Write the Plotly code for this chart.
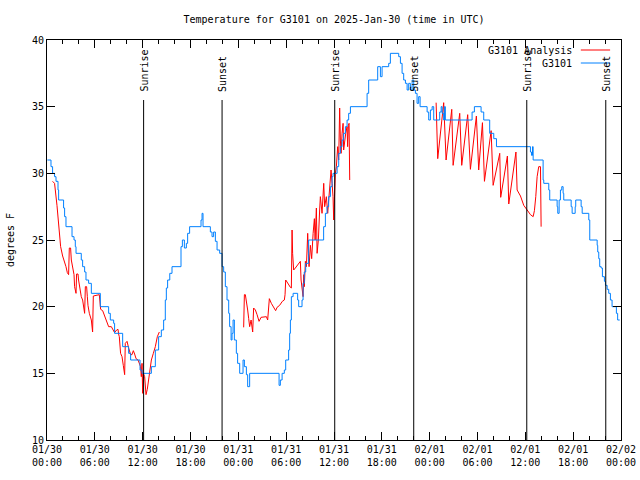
import pandas as pd
import plotly.graph_objects as go

# ---------------- data ----------------
START = pd.Timestamp("2025-01-30 00:00")
END_HOURS = 72

# station observations (hours since 2025-01-30 00:00 UTC, deg F)
obs_hours = [0.05, 0.5, 0.7, 0.95, 1.13, 1.38, 1.46, 2.08, 2.21, 2.38, 3.14, 3.39, 3.55, 3.64,
             4.30, 4.47, 4.72, 4.89, 5.22, 5.56, 6.69, 7.73, 7.94, 8.36, 8.48, 9.49, 10.24, 10.49,
             11.67, 11.92, 13.09, 13.59, 14.0, 14.34, 14.63, 14.84, 14.97, 15.13, 15.4, 15.68,
             16.81, 16.98, 17.23, 17.48, 17.64, 17.89, 19.32, 19.45, 19.57, 20.49, 20.7, 20.9,
             21.12, 21.33, 21.66, 21.96, 22.16, 22.37, 22.58, 22.79, 22.91, 23.09, 23.21, 23.34,
             23.5, 23.75, 23.91, 24.17, 24.59, 24.76, 25.01, 25.17, 25.42, 29.11, 29.27, 29.49,
             29.77, 29.94, 30.31, 30.44, 30.53, 30.65, 30.87, 31.44, 31.57, 31.99, 32.12, 32.27,
             32.45, 32.82, 34.7, 34.92, 35.13, 35.33, 35.55, 35.76, 35.88, 36.39, 36.59, 36.8,
             37.01, 37.21, 37.43, 37.64, 37.84, 38.06, 40.15, 40.35, 41.48, 41.82, 42.03, 42.86,
             43.07, 44.12, 44.33, 44.54, 44.74, 44.96, 45.17, 45.37, 45.58, 45.8, 46.0, 46.21,
             46.42, 46.62, 46.8, 47.68, 47.88, 48.09, 48.31, 48.51, 49.26, 49.44, 49.56, 49.76,
             49.85, 49.97, 53.32, 53.61, 54.45, 54.78, 55.53, 56.04, 56.38, 60.64, 60.77, 60.9,
             60.98, 62.23, 62.31, 62.94, 63.06, 63.99, 64.07, 64.24, 64.4, 64.57, 64.74, 64.82,
             65.75, 65.87, 66.25, 66.32, 67.0, 67.13, 67.96, 68.08, 69.01, 69.08, 69.21, 69.33,
             69.51, 69.67, 69.92, 70.05, 70.26, 70.46, 70.67, 70.88, 71.42, 71.58, 71.84]
obs_temp = [31.0, 30.5, 30.0, 29.75, 29.4, 28.75, 28.0, 27.4, 26.75, 26.0, 25.25, 25.0, 24.5, 24.0,
            23.5, 23.0, 22.6, 22.0, 21.75, 21.0, 20.0, 19.5, 19.0, 18.75, 18.0, 17.0, 16.5, 16.0,
            15.25, 15.0, 15.5, 16.75, 17.75, 18.25, 19.0, 20.5, 21.4, 22.0, 22.5, 23.0,
            24.5, 25.0, 24.4, 24.75, 25.5, 26.0, 26.5, 27.0, 26.0, 25.6, 25.25, 25.6,
            24.9, 24.25, 24.0, 23.0, 22.6, 21.5, 20.5, 19.5, 18.5, 17.5, 18.0, 19.0,
            17.5, 16.5, 15.75, 15.0, 16.0, 15.5, 14.9, 14.0, 15.0, 14.1, 14.5, 15.0,
            15.25, 16.0, 16.75, 18.0, 19.0, 20.75, 21.0, 20.5, 20.0, 20.5, 21.75, 22.6,
            23.25, 25.0, 26.0, 27.0, 27.5, 28.25, 29.0, 29.75, 30.0, 30.5, 31.5, 32.0,
            32.5, 33.0, 33.5, 34.0, 34.5, 35.0, 36.0, 37.0, 38.0, 37.25, 38.0, 38.25,
            39.0, 38.75, 38.25, 37.5, 37.0, 36.75, 36.25, 36.75, 36.25, 37.0, 36.25, 36.0,
            35.25, 35.75, 35.0, 34.6, 34.0, 34.75, 35.0, 34.0, 34.6, 35.0, 34.5, 34.0,
            35.0, 34.0, 34.6, 35.0, 34.6, 34.0, 33.0, 32.6, 32.0, 31.6, 31.35, 32.0,
            31.0, 29.5, 29.25, 28.75, 28.0, 27.5, 27.0, 28.0, 28.75, 29.0, 28.5, 28.0,
            27.5, 27.0, 27.5, 28.0, 27.5, 27.0, 26.5, 25.0, 24.6, 24.1, 23.6, 23.0,
            22.9, 22.25, 21.9, 21.6, 21.3, 21.0, 20.5, 20.0, 19.5, 19.0, 19.0]

# analysis (three separate runs, None = gap)
ana_hours = [0.70, 0.95, 1.25, 1.38, 1.54, 1.71, 1.96, 2.21, 2.38, 2.55, 2.71, 2.80, 2.96, 3.05,
             3.21, 3.39, 3.46, 3.64, 3.71, 3.89, 3.96, 4.14, 4.30, 4.47, 4.64, 4.72, 4.81, 4.97,
             5.06, 5.14, 5.31, 5.56, 5.72, 5.81, 6.56, 6.73, 6.98, 7.15, 7.40, 7.57, 7.73, 8.07,
             8.32, 8.48, 8.73, 8.91, 8.98, 9.07, 9.23, 9.41, 9.57, 9.74, 9.82, 10.04, 10.24,
             10.49, 10.66, 10.83, 10.99, 11.17, 11.42, 11.58, 11.74, 11.83, 11.92, 12.0, 12.08,
             12.25, 12.42, 12.58, 12.75, 12.92, 13.09, 13.34, 13.59, 13.84, 14.09,
             None,
             24.67, 24.76, 24.88, 25.01, 25.17, 25.3, 25.42, 25.6, 25.67, 25.8, 25.92, 26.14,
             26.35, 26.6, 26.85, 27.18, 27.52, 27.68, 27.89, 28.14, 28.43, 28.68, 28.86, 29.18,
             29.52, 29.77, 29.86, 29.94, 30.11, 30.31, 30.53, 30.65, 30.74, 30.81, 30.94, 31.15,
             31.37, 31.62, 31.78, 31.87, 31.99, 32.12, 32.2, 32.28, 32.41, 32.54, 32.62, 32.7,
             32.79, 32.87, 33.04, 33.2, 33.38, 33.54, 33.63, 33.79, 33.88, 34.04, 34.2, 34.29,
             34.5, 34.71, 34.83, 35.04, 35.21, 35.33, 35.46, 35.63, 35.76, 35.88, 35.96, 36.05,
             36.17, 36.3, 36.39, 36.46, 36.59, 36.71, 36.8, 36.89, 37.01, 37.14, 37.21, 37.34,
             37.47, 37.64, 37.71, 37.8, 37.89, 37.97,
             None,
             48.81, 49.01, 49.76, 50.06, 50.77, 50.94, 51.77, 52.02, 52.77, 53.11, 53.86, 54.15,
             54.62, 54.87, 55.71, 55.96, 56.79, 56.91, 57.75, 57.92, 58.82, 58.97, 59.39, 59.8,
             60.23, 60.64, 60.98, 61.14, 61.31, 61.48, 61.68, 61.9, 61.98]
ana_temp = [29.4, 29.25, 27.6, 26.75, 25.4, 24.5, 23.8, 23.4, 23.0, 22.55, 22.4, 24.4, 24.4, 23.5,
            22.9, 22.4, 21.5, 21.0, 22.45, 22.45, 22.0, 21.25, 20.75, 20.5, 19.75, 19.5, 21.5, 21.5,
            20.75, 20.1, 19.5, 19.0, 18.1, 20.8, 20.9, 19.8, 19.7, 19.4, 19.0, 18.75, 18.5, 18.5,
            18.25, 18.05, 18.25, 18.3, 17.95, 17.75, 16.5, 16.25, 15.6, 14.9, 17.25, 17.4, 16.9,
            16.4, 16.4, 16.7, 16.45, 16.1, 16.0, 15.75, 15.5, 14.75, 15.75, 13.5, 15.0,
            14.75, 13.4, 13.8, 14.5, 15.25, 16.0, 16.5, 17.0, 17.75, 18.1,
            None,
            18.45, 20.9, 20.9, 20.5, 19.75, 19.1, 18.5, 19.0, 18.4, 18.1, 19.9, 19.75,
            19.4, 18.9, 19.2, 19.25, 19.25, 19.0, 20.6, 20.25, 19.9, 19.7, 19.95, 20.1,
            20.4, 20.5, 20.9, 22.0, 21.85, 21.6, 21.45, 21.4, 25.75, 24.0, 22.75, 22.9,
            23.05, 23.25, 23.4, 22.0, 21.4, 20.75, 22.4, 21.5, 23.4, 23.0, 24.25, 25.5,
            24.0, 23.0, 24.6, 23.6, 25.5, 26.6, 25.0, 27.4, 24.0, 25.0, 27.25, 28.25,
            27.0, 29.25, 27.5, 28.25, 27.0, 28.0, 29.0, 30.25, 29.25, 28.25, 26.5, 28.75,
            30.0, 30.5, 31.5, 32.0, 31.0, 34.9, 32.5, 31.5, 33.0, 33.75, 31.75, 32.5,
            33.0, 33.5, 32.0, 33.6, 33.75, 29.5,
            None,
            35.3, 31.1, 35.3, 31.0, 34.8, 30.6, 34.5, 30.6, 34.4, 30.3, 34.3, 30.25,
            33.8, 29.4, 33.2, 29.1, 31.5, 28.2, 31.3, 27.7, 31.6, 28.75, 28.3, 27.6,
            27.25, 26.9, 26.75, 27.2, 28.25, 29.75, 30.5, 30.5, 26.0]

# sun events (hours since start)
sun_hours = [12.12, 21.96, 36.09, 46.0, 60.18, 70.09]
sun_labels = ["Sunrise", "Sunset", "Sunrise", "Sunset", "Sunrise", "Sunset"]

series_names = ["G3101 Analysis", "G3101"]
series_colors = ["#ff0000", "#0080ff"]

TITLE = "Temperature for G3101 on 2025-Jan-30 (time in UTC)"
Y_TITLE = "degrees F"
Y_RANGE = [10, 40]
SUN_LINE_TOP = 35.5


def to_time(hours):
    return [None if h is None else START + pd.Timedelta(hours=h) for h in hours]


FONT = "DejaVu Sans Mono"

fig = go.Figure()
fig.add_trace(go.Scatter(x=to_time(ana_hours), y=ana_temp, mode="lines",
                         name=series_names[0], line=dict(color=series_colors[0], width=1),
                         connectgaps=False))
fig.add_trace(go.Scatter(x=to_time(obs_hours), y=obs_temp, mode="lines", line_shape="hv",
                         name=series_names[1], line=dict(color=series_colors[1], width=1)))

for h, lab in zip(sun_hours, sun_labels):
    t = START + pd.Timedelta(hours=h)
    fig.add_shape(type="line", xref="x", yref="y", x0=t, x1=t, y0=Y_RANGE[0], y1=SUN_LINE_TOP,
                  line=dict(color="black", width=1))
    fig.add_annotation(x=t, y=SUN_LINE_TOP, xref="x", yref="y", text=lab, textangle=-90,
                       showarrow=False, xanchor="center", yanchor="bottom", yshift=6,
                       font=dict(family=FONT, size=10, color="black"))

# manual gnuplot-style legend (text then sample line)
legend_rows_y = [0.975, 0.9425]
for name, col, yy in zip(series_names, series_colors, legend_rows_y):
    fig.add_annotation(x=0.918, y=yy, xref="paper", yref="paper", text=name, showarrow=False,
                       xanchor="right", yanchor="middle",
                       font=dict(family=FONT, size=10, color="black"))
    fig.add_shape(type="line", xref="paper", yref="paper", x0=0.930, x1=0.981, y0=yy, y1=yy,
                  line=dict(color=col, width=1))

fig.update_layout(
    width=640, height=480,
    margin=dict(l=47, r=19, t=40, b=40, autoexpand=False),
    paper_bgcolor="white", plot_bgcolor="white",
    showlegend=False,
    font=dict(family=FONT, size=10, color="black"),
    title=dict(text=TITLE, x=0.5, xref="paper", xanchor="center",
               y=1 - 19 / 480, yref="container", yanchor="middle",
               font=dict(family=FONT, size=10, color="black")),
)
fig.update_xaxes(
    type="date",
    range=[START, START + pd.Timedelta(hours=END_HOURS)],
    tick0=START, dtick=6 * 3600 * 1000,
    tickformat="%m/%d<br>%H:%M",
    ticks="inside", ticklen=8, tickcolor="black", tickwidth=1,
    minor=dict(dtick=2 * 3600 * 1000, ticks="inside", ticklen=4, tickcolor="black", showgrid=False),
    showline=True, linecolor="black", linewidth=1, mirror="allticks",
    showgrid=False, zeroline=False, automargin=False,
    tickfont=dict(family=FONT, size=10, color="black"),
)
fig.update_yaxes(
    range=Y_RANGE, dtick=5, tick0=10,
    ticks="inside", ticklen=8, tickcolor="black", tickwidth=1,
    showline=True, linecolor="black", linewidth=1, mirror="allticks",
    showgrid=False, zeroline=False, automargin=False,
    tickfont=dict(family=FONT, size=10, color="black"),
    title=dict(text=Y_TITLE, font=dict(family=FONT, size=10, color="black"), standoff=15),
)

fig.write_html("out.html", config={"displayModeBar": False},
               post_script="document.body.style.margin='0px';")
